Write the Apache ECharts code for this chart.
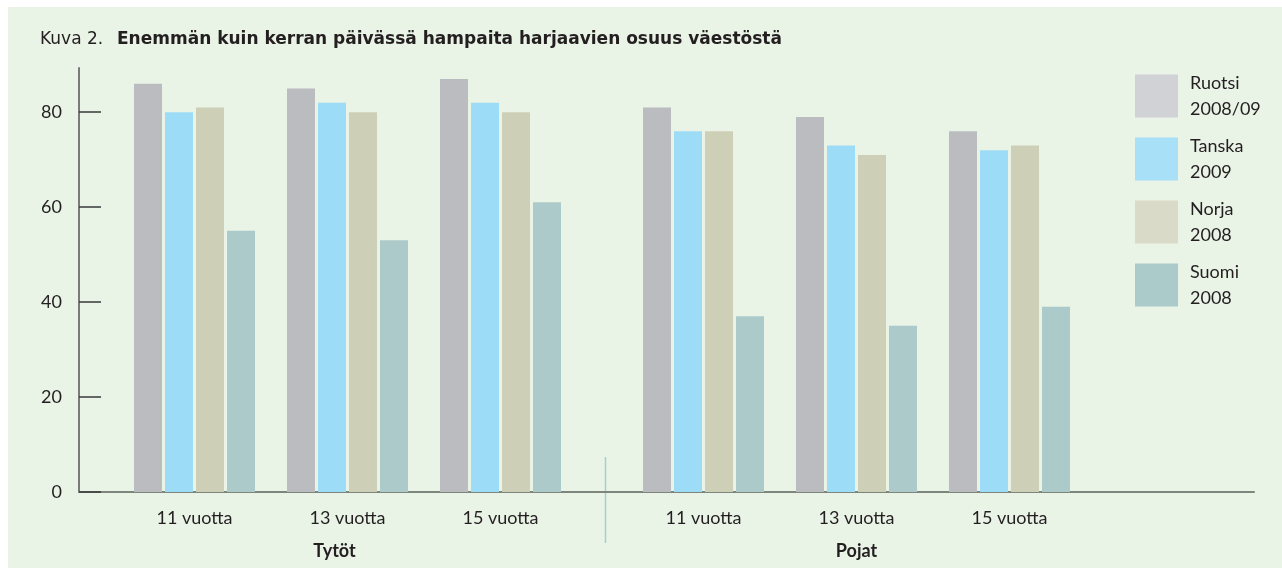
<!DOCTYPE html>
<html>
<head>
<meta charset="utf-8">
<title>Kuva 2</title>
<script src="https://cdn.jsdelivr.net/npm/echarts@6/dist/echarts.min.js"></script>
<style>
html, body {margin: 0; padding: 0; background: #fff;}
#chart {width: 1282px; height: 571px;}
</style>
</head>
<body>
<div id="chart"></div>
<script>
/* luokat ja ryhmät */
var ageLabels = ["11 vuotta", "13 vuotta", "15 vuotta"];
var groupNames = ["Tytöt", "Pojat"];
var countryNames = ["Ruotsi\n2008/09", "Tanska\n2009", "Norja\n2008", "Suomi\n2008"];
var yTicks = [0, 20, 40, 60, 80];

/* osuudet (%) */
var tytotRuotsi = [86, 85, 87];
var tytotTanska = [80, 82, 82];
var tytotNorja = [81, 80, 80];
var tytotSuomi = [55, 53, 61];
var pojatRuotsi = [81, 79, 76];
var pojatTanska = [76, 73, 72];
var pojatNorja = [76, 71, 73];
var pojatSuomi = [37, 35, 39];

var barColors = ["#bbbcc0", "#9ddcf7", "#cecfb7", "#abcac9"];
var legendColors = ["#d1d2d5", "#a8e0f8", "#d9dac7", "#aacbc9"];
var txt = "#231f20", font = "Lato", titleFont = "DejaVu Sans";
var yMax = 89.3;

var groupData = [[tytotRuotsi, tytotTanska, tytotNorja, tytotSuomi], [pojatRuotsi, pojatTanska, pojatNorja, pojatSuomi]];
var series = [];
for (var g = 0; g < 2; g++) for (var i = 0; i < 4; i++) series.push({
    name: countryNames[i], type: "bar", xAxisIndex: g + 1, yAxisIndex: g + 1,
    data: groupData[g][i], barWidth: 28, barGap: "10.7%",
    itemStyle: {color: barColors[i]}, emphasis: {disabled: true}
});

var bandAxis = function (idx, name, pad) {
    return {
        type: "category", gridIndex: idx, data: ageLabels,
        axisLine: {show: false}, axisTick: {show: false},
        axisLabel: {color: txt, fontFamily: font, fontSize: 18, margin: 17},
        name: name, nameLocation: "middle", nameGap: 50,
        nameTextStyle: {color: txt, fontFamily: font, fontSize: 18, fontWeight: "bold", padding: pad}
    };
};
var hiddenY = function (idx) {
    return {type: "value", gridIndex: idx, min: 0, max: yMax, show: false, splitLine: {show: false}};
};

var myChart = echarts.init(document.getElementById("chart"));
myChart.setOption({
    backgroundColor: "#ffffff",
    animation: false,
    // otsikko kahtena osana: numero ohuena, teksti lihavoituna
    title: [
        {left: 40, top: 31, padding: 0, text: "Kuva 2.",
            textStyle: {color: txt, fontFamily: titleFont, fontSize: 17, fontWeight: "normal"}},
        {left: 117, top: 31, padding: 0, text: "Enemmän kuin kerran päivässä hampaita harjaavien osuus väestöstä",
            textStyle: {color: txt, fontFamily: titleFont, fontSize: 17, fontWeight: "bold"}}
    ],
    legend: {
        orient: "vertical", left: 1130, top: 62, itemWidth: 43, itemHeight: 43, itemGap: 5,
        icon: "rect", selectedMode: false,
        data: countryNames.map(function (n, i) { return {name: n, itemStyle: {color: legendColors[i]}}; }),
        textStyle: {color: txt, fontFamily: font, fontSize: 18, lineHeight: 26, padding: [6, 0, 0, 7]}
    },
    grid: [
        {left: 79, right: 28, top: 68, bottom: 79},
        {left: 118, width: 459, top: 68, bottom: 79},
        {left: 627, width: 459, top: 68, bottom: 79}
    ],
    xAxis: [
        {type: "value", gridIndex: 0, min: 0, max: 1, axisLine: {show: true, onZero: false, lineStyle: {color: "#7e857c", width: 2}},
            axisTick: {show: false}, axisLabel: {show: false}, splitLine: {show: false}},
        bandAxis(1, groupNames[0], [0, 26, 0, 0]),
        bandAxis(2, groupNames[1], 0)
    ],
    yAxis: [
        {type: "value", gridIndex: 0, min: 0, max: yMax, interval: 20,
            axisLine: {show: true, lineStyle: {color: "#7a7a7a", width: 2}},
            axisTick: {show: true, inside: true, length: 22, customValues: yTicks, lineStyle: {color: "#3a3a3a", width: 1.5}},
            axisLabel: {customValues: yTicks, color: txt, fontFamily: font, fontSize: 18, margin: 17},
            splitLine: {show: false}},
        hiddenY(1),
        hiddenY(2)
    ],
    graphic: [
        {type: "rect", z: -10, shape: {x: 8, y: 7, width: 1274, height: 561}, style: {fill: "#e9f3e6"}},
        {type: "line", shape: {x1: 605.5, y1: 457, x2: 605.5, y2: 543}, style: {stroke: "#a8ccc8", lineWidth: 1.5}}
    ],
    series: series
});
</script>
</body>
</html>
